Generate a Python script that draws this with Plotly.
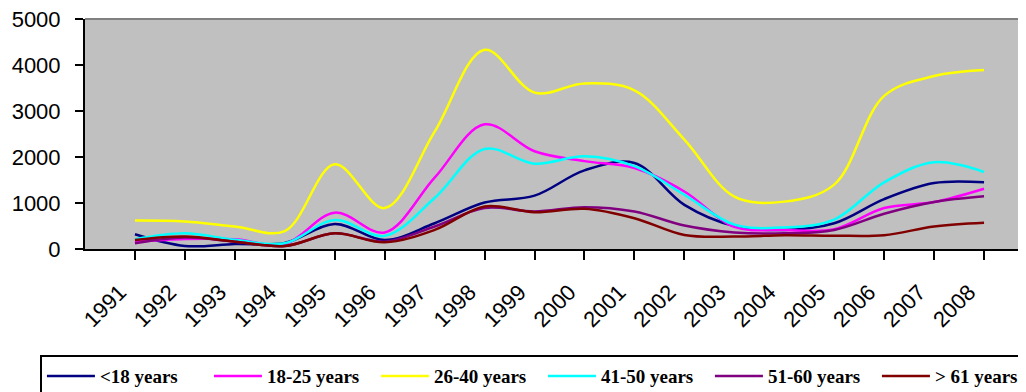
import plotly.graph_objects as go

years = list(range(1991, 2009))
year_labels = [str(y) for y in years]

under_18 = [320, 65, 110, 130, 545, 195, 560, 1010, 1160, 1710, 1870, 960, 500, 415, 560, 1085, 1435, 1450]
age_18_25 = [160, 220, 210, 110, 790, 360, 1550, 2710, 2125, 1910, 1760, 1250, 480, 415, 430, 890, 1020, 1310]
age_26_40 = [620, 600, 490, 390, 1840, 890, 2550, 4330, 3400, 3600, 3450, 2380, 1140, 1030, 1400, 3330, 3760, 3890]
age_41_50 = [210, 340, 200, 125, 630, 285, 1110, 2175, 1855, 2015, 1800, 1180, 530, 470, 640, 1450, 1885, 1675]
age_51_60 = [125, 250, 160, 65, 340, 160, 490, 890, 815, 910, 815, 510, 360, 340, 415, 765, 1020, 1145]
over_61 = [195, 270, 160, 65, 340, 145, 415, 925, 800, 875, 670, 305, 270, 300, 290, 300, 490, 570]

series = [
    ("&lt;18 years", under_18, "#000080"),
    ("18-25 years", age_18_25, "#FF00FF"),
    ("26-40 years", age_26_40, "#FFFF00"),
    ("41-50 years", age_41_50, "#00FFFF"),
    ("51-60 years", age_51_60, "#800080"),
    ("&gt; 61 years", over_61, "#800000"),
]

label_shift = 0.3  # labels sit slightly left of their tick, as in the source

fig = go.Figure()
for name, vals, color in series:
    fig.add_trace(go.Scatter(
        x=years, y=vals, name=name, mode="lines",
        line=dict(color=color, width=2.5, shape="spline", smoothing=1.0),
    ))

# invisible carrier trace so the label axis is drawn
fig.add_trace(go.Scatter(
    x=years, y=under_18, xaxis="x2", mode="lines", opacity=0,
    line=dict(width=0), showlegend=False, hoverinfo="skip",
))

fig.update_layout(
    width=1018, height=384,
    margin=dict(l=77, r=2, t=11, b=143, autoexpand=False),
    paper_bgcolor="white",
    plot_bgcolor="#C0C0C0",
    showlegend=True,
    legend=dict(
        orientation="h",
        x=-0.048, xanchor="left",
        y=-0.461, yanchor="top",
        bordercolor="black", borderwidth=2,
        bgcolor="white",
        font=dict(family="Liberation Serif", size=19, color="black", weight="bold"),
        itemwidth=48,
        entrywidth=104, entrywidthmode="pixels",
        traceorder="normal",
    ),
    xaxis=dict(
        range=[1990, 2008.8],
        tickmode="array", tickvals=years,
        showticklabels=False,
        ticks="outside", ticklen=9, tickwidth=2, tickcolor="black",
        showline=True, linecolor="black", linewidth=2,
        showgrid=False, zeroline=False, automargin=False,
    ),
    xaxis2=dict(
        overlaying="x", anchor="y", side="bottom",
        range=[1990, 2008.8],
        tickmode="array", tickvals=[y - label_shift for y in years], ticktext=year_labels,
        tickangle=-45, ticks="",
        showline=False, showgrid=False, zeroline=False, automargin=False,
        tickfont=dict(family="Liberation Sans", size=22, color="black"),
        ticklabelstandoff=25, ticklabeloverflow="allow",
    ),
    yaxis=dict(
        range=[0, 5000],
        tickvals=[0, 1000, 2000, 3000, 4000, 5000],
        ticks="outside", ticklen=8, tickwidth=2, tickcolor="black",
        showline=True, linecolor="black", linewidth=2,
        showgrid=False, zeroline=False, automargin=False,
        tickfont=dict(family="Liberation Sans", size=22, color="black"),
        ticklabelstandoff=10, ticklabeloverflow="allow",
    ),
    shapes=[dict(type="line", xref="paper", yref="paper", x0=0, x1=1, y0=1, y1=1,
                 line=dict(color="#808080", width=2))],
)

fig.write_html("out.html")
